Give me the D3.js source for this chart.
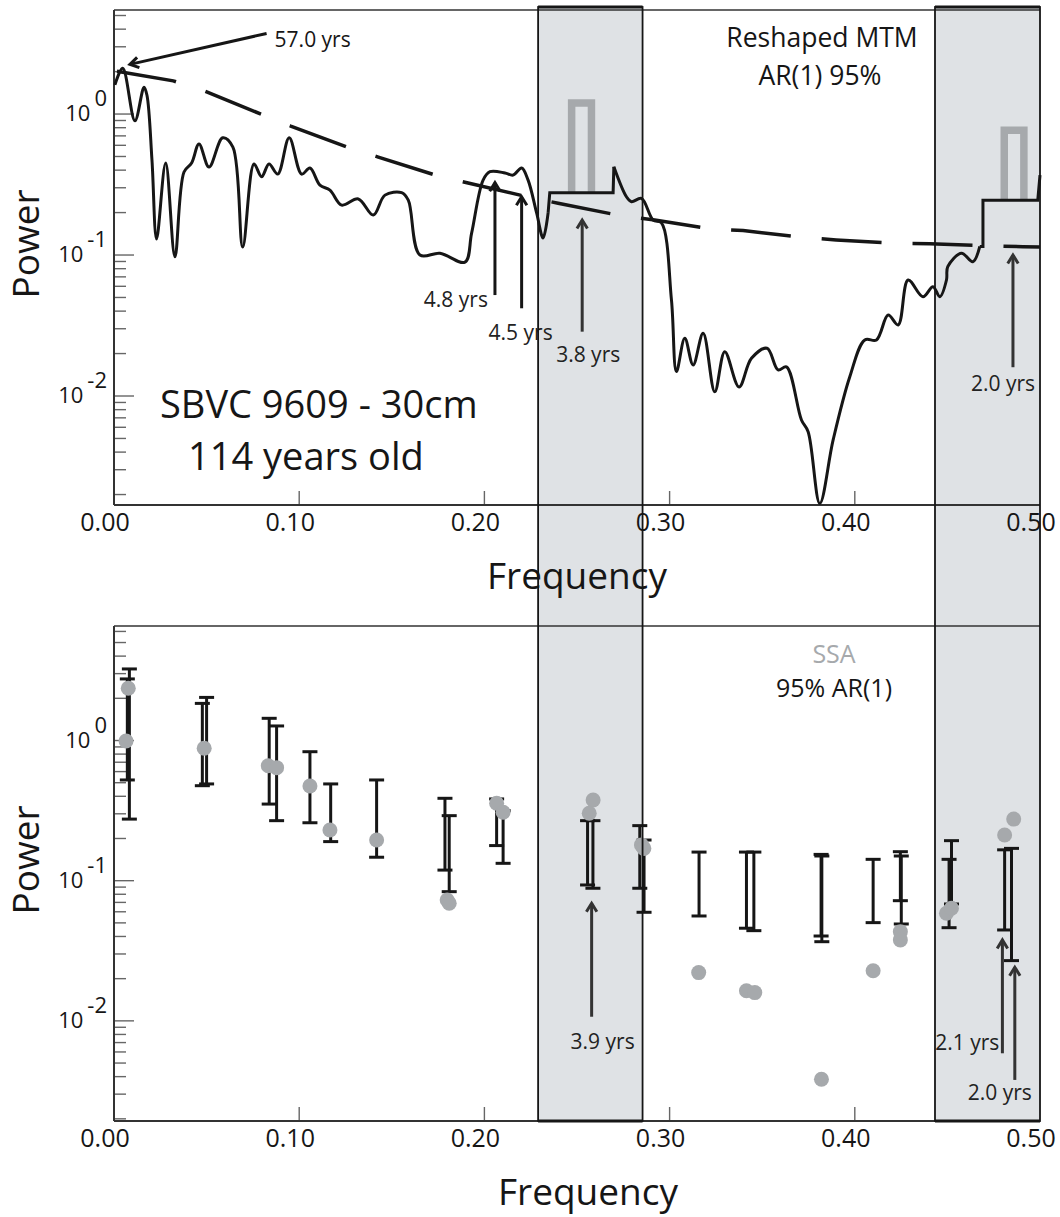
<!DOCTYPE html>
<html><head><meta charset="utf-8">
<script src="https://cdn.jsdelivr.net/npm/d3@7"></script>
<style>
html,body{margin:0;padding:0;background:#fff;}
svg{display:block;font-family:"Open Sans",sans-serif;}
</style></head><body>
<svg id="chart" width="1060" height="1217"></svg>
<script>
// ---- Reshaped MTM spectrum (frequency in cycles/yr, power) ----
const mtmLowFreq = [0.0005,0.0047,0.0113,0.0162,0.0178,0.0205,0.0230,0.0279,0.0329,0.0378,0.0419,0.0459,0.0513,0.0587,0.0642,0.0695,0.0756,0.0797,0.0837,0.0884,0.0946,0.1013,0.1058,0.1112,0.1166,0.1229,0.1319,0.1400,0.1463,0.1553,0.1589,0.1652,0.1760,0.1895,0.1931,0.1993,0.2030,0.2111,0.2155,0.2201,0.2236,0.2282,0.2317,0.2344];
const mtmLowPower = [1.61,2.11,0.896,1.55,1.36,0.472,0.130,0.449,0.0973,0.388,0.449,0.613,0.421,0.679,0.583,0.114,0.442,0.359,0.442,0.375,0.679,0.375,0.414,0.313,0.289,0.226,0.250,0.192,0.266,0.277,0.245,0.100,0.103,0.0891,0.143,0.340,0.390,0.382,0.369,0.414,0.340,0.199,0.132,0.199];
const mtmMidFreq = [0.2699,0.2767,0.2794,0.2848,0.2911,0.2956,0.3010,0.3037,0.3082,0.3127,0.3181,0.3244,0.3298,0.3375,0.3442,0.3526,0.3586,0.3631,0.3712,0.3748,0.3811,0.3883,0.3973,0.4054,0.4117,0.4180,0.4234,0.4288,0.4368,0.4422,0.4459,0.4495,0.4502,0.4576,0.4637,0.4675];
const mtmMidPower = [0.423,0.259,0.239,0.252,0.177,0.169,0.0480,0.0149,0.0257,0.0166,0.0279,0.0107,0.0206,0.0116,0.0185,0.0218,0.0153,0.0161,0.00676,0.00558,0.00173,0.00488,0.0137,0.0250,0.0250,0.0375,0.0319,0.0665,0.0506,0.0596,0.0506,0.0665,0.0826,0.103,0.0896,0.115];
// reshaped harmonic-line steps
const stepAFreq = [0.2344,0.2353,0.2695,0.2699];
const stepAPower = [0.199,0.277,0.277,0.423];
const stepBFreq = [0.4675,0.4692,0.4692,0.4988,0.5];
const stepBPower = [0.115,0.115,0.245,0.245,0.369];
// harmonic line markers (grey)
const lineAFreq = [0.2471,0.2578], lineAPower = [0.277,1.197];
const lineBFreq = [0.4807,0.4913], lineBPower = [0.245,0.766];
// AR(1) 95% confidence level
const arFreq = [0.0,0.032,0.0486,0.0797,0.0954,0.1265,0.1427,0.1747,0.1912,0.2231,0.2398,0.2728,0.292,0.3226,0.3397,0.373,0.390,0.4228,0.4405,0.4728,0.4908,0.5];
const arPower = [2.03,1.72,1.46,0.995,0.822,0.578,0.495,0.365,0.324,0.259,0.233,0.191,0.177,0.153,0.149,0.133,0.128,0.121,0.120,0.116,0.1145,0.114];

// ---- SSA eigenvalues and AR(1) 95% ranges ----
const ssaFreq = [0.0077,0.0065,0.0487,0.0833,0.0878,0.1058,0.1166,0.1418,0.1799,0.1810,0.2066,0.2101,0.2587,0.2566,0.2848,0.2861,0.3157,0.3415,0.3460,0.3820,0.4099,0.4246,0.4246,0.4495,0.4522,0.4809,0.4858];
const ssaPower = [2.36,0.992,0.880,0.661,0.640,0.474,0.230,0.195,0.0728,0.0690,0.357,0.308,0.376,0.303,0.180,0.170,0.0221,0.0164,0.0159,0.00383,0.0228,0.0433,0.0378,0.0585,0.0636,0.212,0.275];
const rangeFreq = [0.0083,0.0072,0.0500,0.0477,0.0838,0.0878,0.1058,0.1170,0.1418,0.1787,0.1810,0.2066,0.2101,0.2557,0.2586,0.2839,0.2862,0.3159,0.3415,0.3455,0.3818,0.3822,0.4099,0.4246,0.4251,0.4522,0.4509,0.4809,0.4846];
const rangeHigh = [3.24,2.75,2.03,1.84,1.44,1.27,0.832,0.490,0.523,0.387,0.291,0.383,0.316,0.268,0.268,0.247,0.195,0.160,0.160,0.160,0.154,0.150,0.142,0.161,0.150,0.193,0.142,0.166,0.170];
const rangeLow = [0.275,0.523,0.490,0.476,0.352,0.268,0.259,0.190,0.147,0.119,0.0835,0.178,0.133,0.0932,0.0883,0.0883,0.0595,0.0560,0.0458,0.0440,0.0403,0.0367,0.0502,0.0720,0.0491,0.0682,0.0462,0.0445,0.0269];

// frequency bands highlighted in both panels
const bands = [[0.229,0.2854],[0.4433,0.5]];

// period annotations
const topNotes = [
  {label:"4.8 yrs", f:0.2057, tip:0.326, tail:0.052},
  {label:"4.5 yrs", f:0.2201, tip:0.259, tail:0.0419},
  {label:"3.8 yrs", f:0.2528, tip:0.177, tail:0.0286},
  {label:"2.0 yrs", f:0.4854, tip:0.100, tail:0.0160}
];
const bottomNotes = [
  {label:"3.9 yrs", f:0.2579, tip:0.069, tail:0.0107},
  {label:"2.1 yrs", f:0.4797, tip:0.0378, tail:0.00587},
  {label:"2.0 yrs", f:0.4864, tip:0.0241, tail:0.00379}
];
const xTickValues = [0,0.1,0.2,0.3,0.4,0.5];
const decadeLabels = [1,0.1,0.01];

const svg = d3.select("#chart");
const L = 114, R = 1040;
const x = d3.scaleLinear().domain([0,0.5]).range([L,R]);
const topPanel = {y0:10, y1:505, xLab:577, scale:d3.scaleLog().domain([0.001686,5.47]).range([505,10])};
const botPanel = {y0:626, y1:1121, xLab:588, scale:d3.scaleLog().domain([0.00193,6.56]).range([1121,626])};

const ink = "#161616", grey = "#a6a9ac", axisCol = "#333";

// shaded bands (fill first)
const bandG = svg.append("g");
bands.forEach(b => {
  bandG.append("rect").attr("x",x(b[0])).attr("y",7).attr("width",x(b[1])-x(b[0])).attr("height",botPanel.y1-7)
    .attr("fill","#dfe2e5");
});

function axes(panel){
  const y = panel.scale;
  const g = svg.append("g");
  g.append("line").attr("x1",L).attr("x2",R).attr("y1",panel.y0).attr("y2",panel.y0).attr("stroke",axisCol).attr("stroke-width",1.6);
  y.ticks().forEach(v => {
    const lv = Math.log10(v);
    const major = Math.abs(lv-Math.round(lv))<1e-9;
    g.append("line").attr("x1",L).attr("x2",L+(major?20:12)).attr("y1",y(v)).attr("y2",y(v))
      .attr("stroke","#666").attr("stroke-width",1.4);
  });
  decadeLabels.forEach(v => {
    const t = g.append("text").attr("x",107).attr("y",y(v)+7).attr("text-anchor","end")
      .attr("font-size",22).attr("fill",ink);
    t.append("tspan").text("10");
    t.append("tspan").attr("dx",4).attr("dy",-15).text(String(Math.round(Math.log10(v))));
  });
  xTickValues.forEach(v => {
    if (v>0 && v<0.5) g.append("line").attr("x1",x(v)).attr("x2",x(v)).attr("y1",panel.y1).attr("y2",panel.y1-14)
      .attr("stroke","#666").attr("stroke-width",1.4);
    g.append("text").attr("x",x(v)-9).attr("y",panel.y1+26).attr("text-anchor","middle")
      .attr("font-size",25).attr("fill",ink).text(v.toFixed(2));
  });
  g.append("line").attr("x1",L).attr("x2",L).attr("y1",panel.y0).attr("y2",panel.y1).attr("stroke",axisCol).attr("stroke-width",2);
  g.append("line").attr("x1",L).attr("x2",R).attr("y1",panel.y1).attr("y2",panel.y1).attr("stroke",axisCol).attr("stroke-width",2);
  g.append("text").attr("transform",`translate(39,${panel.y0+234}) rotate(-90)`).attr("text-anchor","middle")
    .attr("font-size",37).attr("fill",ink).text("Power");
  g.append("text").attr("x",panel.xLab).attr("y",panel.y1+84).attr("text-anchor","middle")
    .attr("font-size",37).attr("fill",ink).text("Frequency");
}
axes(topPanel); axes(botPanel);

function arrow(g,x0,y0,x1,y1,col){
  g.append("line").attr("x1",x0).attr("y1",y0).attr("x2",x1).attr("y2",y1).attr("stroke",col).attr("stroke-width",3);
  const a = Math.atan2(y1-y0,x1-x0), h = 10, w = 0.55;
  const p = d3.path();
  p.moveTo(x1-h*Math.cos(a-w), y1-h*Math.sin(a-w));
  p.lineTo(x1,y1);
  p.lineTo(x1-h*Math.cos(a+w), y1-h*Math.sin(a+w));
  g.append("path").attr("d",p.toString()).attr("fill","none").attr("stroke",col).attr("stroke-width",3);
}

// ---- top panel: MTM ----
const yT = topPanel.scale;
const tg = svg.append("g");
const zip = (f,p) => f.map((d,i)=>[d,p[i]]);
const smooth = d3.line().x(d=>x(d[0])).y(d=>yT(d[1])).curve(d3.curveCatmullRom.alpha(0.5));
const straight = d3.line().x(d=>x(d[0])).y(d=>yT(d[1]));
tg.append("path").attr("d",straight(zip(arFreq,arPower))).attr("fill","none").attr("stroke",ink)
  .attr("stroke-width",3.5).attr("stroke-dasharray","60,31").attr("stroke-dashoffset",-3);
[[lineAFreq,lineAPower],[lineBFreq,lineBPower]].forEach(([f,p]) => {
  const pts = [[f[0],p[0]],[f[0],p[1]],[f[1],p[1]],[f[1],p[0]]];
  tg.append("path").attr("d",straight(pts)).attr("fill","none").attr("stroke",grey).attr("stroke-width",7.5);
});
[zip(mtmLowFreq,mtmLowPower),zip(mtmMidFreq,mtmMidPower)].forEach(d =>
  tg.append("path").attr("d",smooth(d)).attr("fill","none").attr("stroke",ink).attr("stroke-width",3).attr("stroke-linejoin","round"));
[zip(stepAFreq,stepAPower),zip(stepBFreq,stepBPower)].forEach(d =>
  tg.append("path").attr("d",straight(d)).attr("fill","none").attr("stroke",ink).attr("stroke-width",3));

arrow(tg,x(0.0824),yT(3.73),x(0.0086),yT(2.25),ink);
tg.append("text").attr("x",x(0.0824)+8).attr("y",yT(3.73)+14).attr("font-size",21).attr("fill",ink).text("57.0 yrs");
topNotes.forEach((n,i) => {
  const col = i<2 ? ink : "#333";
  arrow(tg,x(n.f),yT(n.tail),x(n.f),yT(n.tip),col);
});
const tl = (s,xx,yy,anchor) => tg.append("text").attr("x",xx).attr("y",yy).attr("text-anchor",anchor).attr("font-size",21).attr("fill","#222").text(s);
tl(topNotes[0].label, x(topNotes[0].f)-7, yT(topNotes[0].tail)+12, "end");
tl(topNotes[1].label, x(topNotes[1].f)-1, yT(topNotes[1].tail)+32, "middle");
tl(topNotes[2].label, x(topNotes[2].f)+6, yT(topNotes[2].tail)+30, "middle");
tl(topNotes[3].label, x(topNotes[3].f)-10, yT(topNotes[3].tail)+24, "middle");

tg.append("text").attr("x",822).attr("y",47).attr("text-anchor","middle").attr("font-size",26.5).attr("fill",ink).text("Reshaped MTM");
tg.append("text").attr("x",820).attr("y",85).attr("text-anchor","middle").attr("font-size",26.5).attr("fill",ink).text("AR(1) 95%");
tg.append("text").attr("x",160).attr("y",418).attr("font-size",38).attr("fill",ink).text("SBVC 9609 - 30cm");
tg.append("text").attr("x",188).attr("y",470).attr("font-size",38).attr("fill",ink).text("114 years old");

// ---- bottom panel: SSA ----
const yB = botPanel.scale;
const bg = svg.append("g");
rangeFreq.forEach((f,i) => {
  const xx = x(f), yh = yB(rangeHigh[i]), yl = yB(rangeLow[i]);
  bg.append("line").attr("x1",xx).attr("x2",xx).attr("y1",yh).attr("y2",yl).attr("stroke",ink).attr("stroke-width",3);
  [yh,yl].forEach(yy => bg.append("line").attr("x1",xx-7.5).attr("x2",xx+7.5).attr("y1",yy).attr("y2",yy)
    .attr("stroke",ink).attr("stroke-width",3));
});
ssaFreq.forEach((f,i) => bg.append("circle").attr("cx",x(f)).attr("cy",yB(ssaPower[i])).attr("r",7.5).attr("fill",grey));
bottomNotes.forEach(n => arrow(bg,x(n.f),yB(n.tail),x(n.f),yB(n.tip),"#333"));
const bl = (s,xx,yy,anchor) => bg.append("text").attr("x",xx).attr("y",yy).attr("text-anchor",anchor).attr("font-size",21).attr("fill","#222").text(s);
bl(bottomNotes[0].label, x(bottomNotes[0].f)+11, yB(bottomNotes[0].tail)+32, "middle");
bl(bottomNotes[1].label, x(bottomNotes[1].f)-3, yB(bottomNotes[1].tail)-3, "end");
bl(bottomNotes[2].label, x(bottomNotes[2].f)-15, yB(bottomNotes[2].tail)+20, "middle");
bg.append("text").attr("x",834).attr("y",663).attr("text-anchor","middle").attr("font-size",25).attr("fill",grey).text("SSA");
bg.append("text").attr("x",834).attr("y",697).attr("text-anchor","middle").attr("font-size",25).attr("fill",ink).text("95% AR(1)");

// band outlines drawn over everything
bands.forEach(b => {
  const x0 = x(b[0]), x1 = x(b[1]);
  svg.append("rect").attr("x",x0).attr("y",7).attr("width",x1-x0).attr("height",botPanel.y1-7)
    .attr("fill","none").attr("stroke",ink).attr("stroke-width",1.8);
  [7,botPanel.y1].forEach(yy => svg.append("line").attr("x1",x0).attr("x2",x1).attr("y1",yy).attr("y2",yy)
    .attr("stroke",ink).attr("stroke-width",3));
});
</script>
</body></html>
